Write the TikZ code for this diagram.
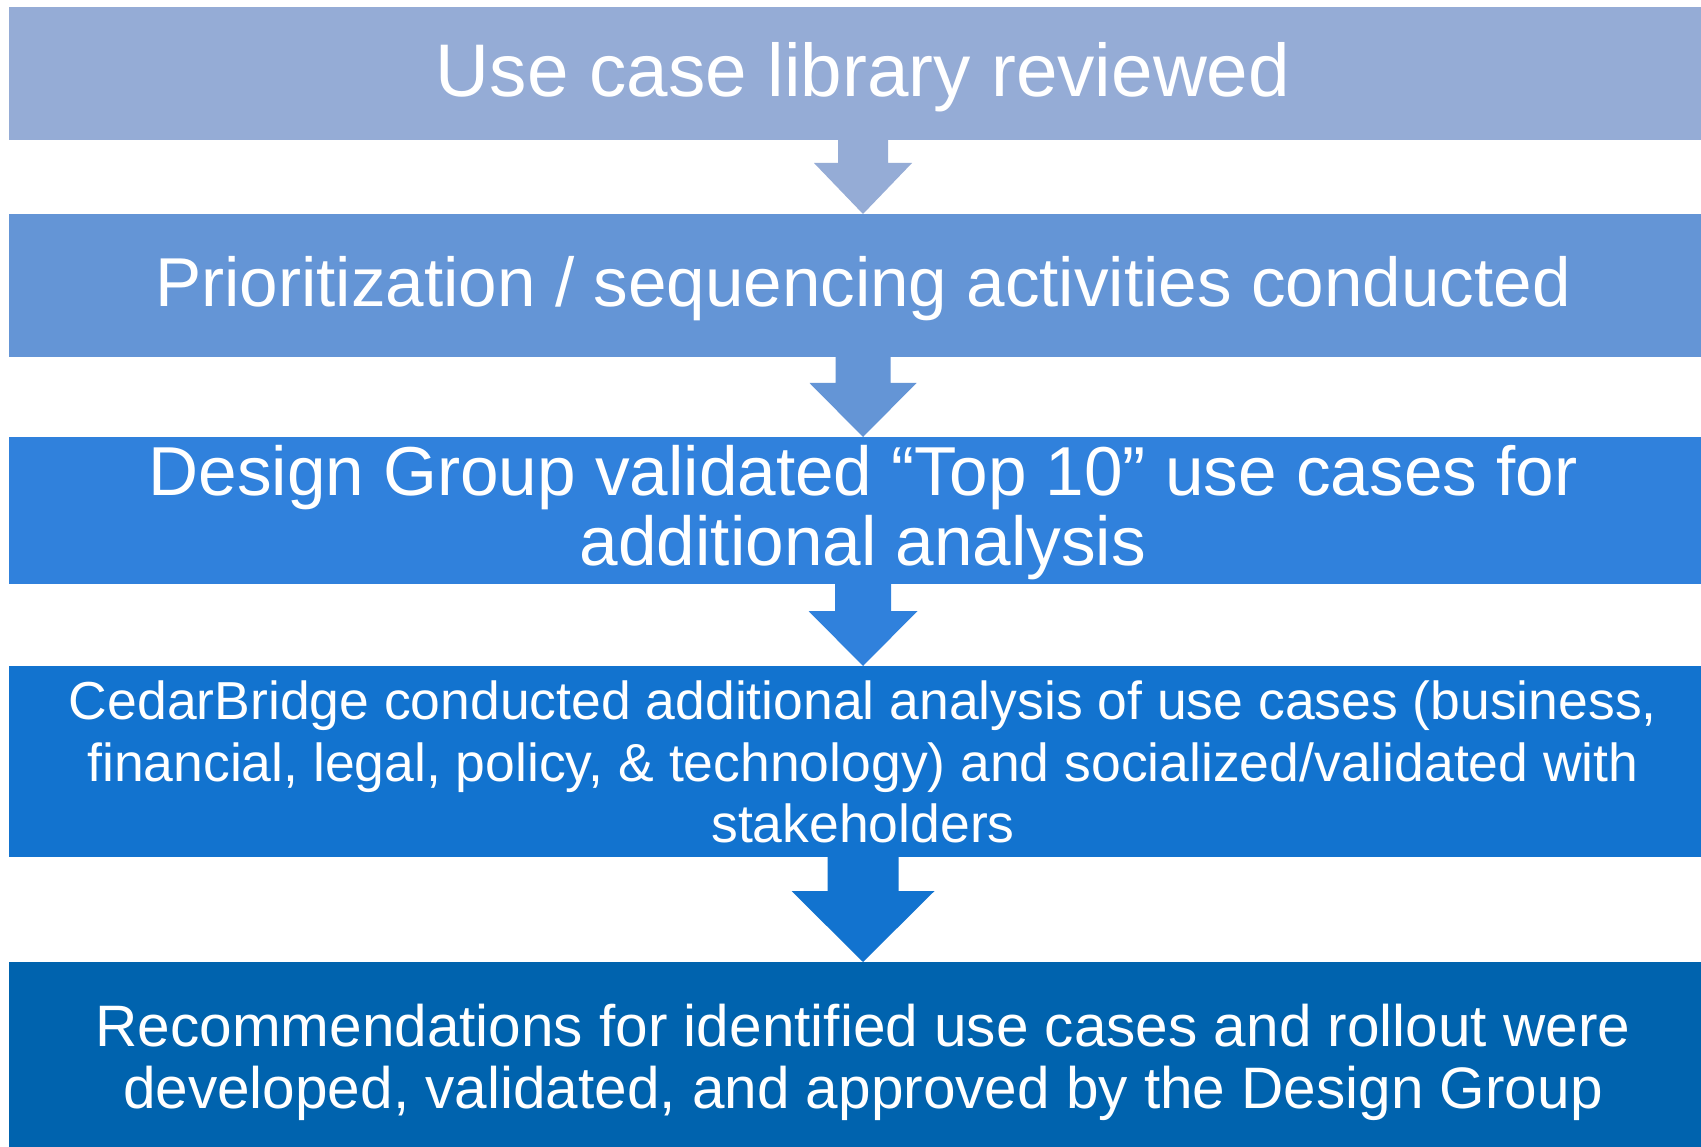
\documentclass[tikz,border=0pt]{standalone}
\usepackage{fontspec}
\setmainfont{Liberation Sans}
\usetikzlibrary{calc}

\definecolor{stepA}{HTML}{95ACD6}
\definecolor{stepB}{HTML}{6495D6}
\definecolor{stepC}{HTML}{3081DC}
\definecolor{stepD}{HTML}{1273CF}
\definecolor{stepE}{HTML}{0063AE}

% block arrow from the bottom of one band to the top of the next:
% #1 upper node, #2 lower node, #3 stem half-width, #4 stem length,
% #5 head half-width, #6 colour
\newcommand{\bandarrow}[6]{%
  \fill[#6] ($(#1.south)+(-#3,-1)$) -- ($(#1.south)+(#3,-1)$)
    -- ($(#1.south)+(#3,#4)$) -- ($(#1.south)+(#5,#4)$)
    -- (#2.north)
    -- ($(#1.south)+(-#5,#4)$) -- ($(#1.south)+(-#3,#4)$) -- cycle;}

\begin{document}
\begin{tikzpicture}[x=1pt,y=-1pt,
  band/.style={rectangle, inner sep=0pt, outer sep=0pt, minimum width=1708pt},
  bandtext/.style={inner sep=0pt, text=white, align=center}]
\useasboundingbox (0,0) rectangle (1701,1147);
\fill[white] (0,0) rectangle (1701,1147);

% coloured bands
\node[band, fill=stepA, minimum height=133pt] (b1) at (863,73.5) {};
\node[band, fill=stepB, minimum height=143pt] (b2) at (863,285.5) {};
\node[band, fill=stepC, minimum height=147pt] (b3) at (863,510.5) {};
\node[band, fill=stepD, minimum height=191pt] (b4) at (863,761.5) {};
\node[band, fill=stepE, minimum height=188pt] (b5) at (863,1056) {};

% arrows between bands
\bandarrow{b1}{b2}{25}{23}{49}{stepA}
\bandarrow{b2}{b3}{27.5}{26}{53.5}{stepB}
\bandarrow{b3}{b4}{28}{27}{54.5}{stepC}
\bandarrow{b4}{b5}{35.5}{34}{71.5}{stepD}

% band labels
\node[bandtext, font=\fontsize{74.6}{86}\selectfont] (t1) at ($(b1)+(0,4)$)
  {Use case library reviewed};
\node[bandtext, font=\fontsize{69.2}{78}\selectfont] (t2) at ($(b2)+(0,3.5)$)
  {Prioritization / sequencing activities conducted};
\node[bandtext, font=\fontsize{69.3}{70}\selectfont] (t3) at ($(b3)+(0,2.5)$)
  {Design Group validated “Top 10” use cases for\\additional analysis};
\node[bandtext, font=\fontsize{53.5}{61.5}\selectfont] (t4) at ($(b4)+(0,0.5)$)
  {CedarBridge conducted additional analysis of use cases (business,\\financial, legal, policy, \& technology) and socialized/validated with\\stakeholders};
\node[bandtext, font=\fontsize{58.5}{62}\selectfont] (t5) at ($(b5)+(0,6)$)
  {Recommendations for identified use cases and rollout were\\developed, validated, and approved by the Design Group};
\end{tikzpicture}
\end{document}
